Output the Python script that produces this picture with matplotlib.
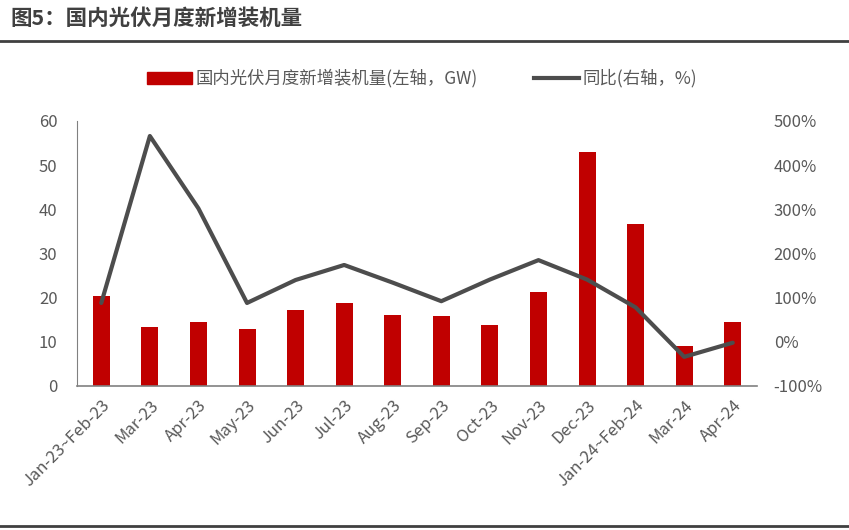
import matplotlib
matplotlib.use("Agg")
import matplotlib.pyplot as plt
import matplotlib.patches as mpatches
from matplotlib.lines import Line2D
from matplotlib.ticker import FuncFormatter

plt.rcParams['font.family'] = ['Noto Sans CJK SC', 'DejaVu Sans']

# datos
meses = ['Jan-23~Feb-23', 'Mar-23', 'Apr-23', 'May-23', 'Jun-23', 'Jul-23', 'Aug-23',
         'Sep-23', 'Oct-23', 'Nov-23', 'Dec-23', 'Jan-24~Feb-24', 'Mar-24', 'Apr-24']
nuevo_gw = [20.4, 13.3, 14.6, 12.9, 17.2, 18.8, 16.1, 15.8, 13.7, 21.3, 53.0, 36.7, 9.0, 14.4]
yoy_pct = [88, 466, 302, 88, 140, 174, 134, 92, 141, 185, 141, 78, -34, -2]

gris = '#595959'
rojo = '#C00000'
linea = '#4D4D4D'

fig = plt.figure(figsize=(8.49, 5.30), dpi=100)
ax = fig.add_axes([0.0907, 0.2717, 0.801, 0.50])
x = list(range(len(meses)))
ax.bar(x, nuevo_gw, width=0.35, color=rojo, zorder=2)
ax.set_xlim(-0.5, len(meses) - 0.5)
ax.set_ylim(0, 60)
ax.set_yticks(range(0, 61, 10))
ax.set_xticks(x)
ax.set_xticklabels(meses, rotation=45, ha='right', rotation_mode='anchor', fontsize=12, color=gris)
ax.tick_params(axis='both', length=0, colors=gris)
ax.tick_params(axis='y', labelsize=12, pad=14)
ax.tick_params(axis='x', pad=8)
for lado in ['top', 'right']:
    ax.spines[lado].set_visible(False)
ax.spines['left'].set_color('#808080')
ax.spines['bottom'].set_color('#808080')
ax.spines['bottom'].set_linewidth(1.2)

ax2 = ax.twinx()
ax2.plot(x, yoy_pct, color=linea, linewidth=3, zorder=3, solid_capstyle='round')
ax2.set_ylim(-100, 500)
ax2.set_yticks(range(-100, 501, 100))
ax2.yaxis.set_major_formatter(FuncFormatter(lambda v, p: f'{int(v)}%'))
ax2.tick_params(axis='y', length=0, labelsize=12, colors=gris, pad=12)
for lado in ['top', 'right', 'left', 'bottom']:
    ax2.spines[lado].set_visible(False)

# titulo y lineas del marco
fig.text(0.012, 0.965, '图5：国内光伏月度新增装机量', fontsize=15.5, fontweight='bold',
         color='#404040', va='center', ha='left')
fig.add_artist(Line2D([0, 1], [0.922, 0.922], color='#404040', linewidth=2))
fig.add_artist(Line2D([0, 1], [0.008, 0.008], color='#404040', linewidth=2))

# leyenda
h1 = mpatches.Patch(color=rojo, label='国内光伏月度新增装机量(左轴，GW)')
h2 = Line2D([], [], color=linea, linewidth=3, label='同比(右轴，%)')
fig.legend(handles=[h1, h2], loc='center', bbox_to_anchor=(0.497, 0.852), ncol=2,
           frameon=False, fontsize=12.5, labelcolor=gris, handlelength=2.6,
           handletextpad=0.2, columnspacing=3.2)

fig.savefig('out.png', dpi=100)
